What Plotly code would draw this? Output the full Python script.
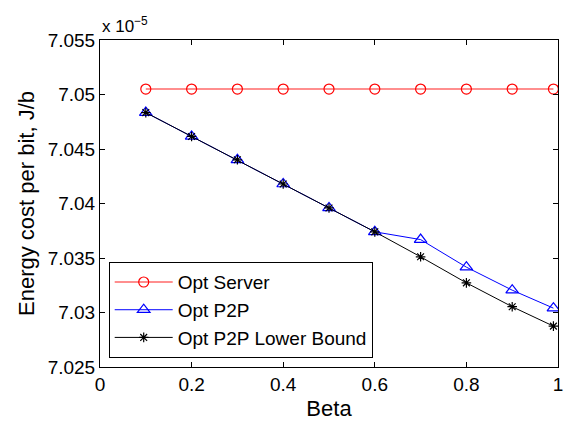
import plotly.graph_objects as go

beta = [0.1, 0.2, 0.3, 0.4, 0.5, 0.6, 0.7, 0.8, 0.9, 0.99]
opt_server = [7.0505] * 10
opt_p2p = [7.04834, 7.04615, 7.04401, 7.04179, 7.03959, 7.0374, 7.03669, 7.03416, 7.03205, 7.0304]
opt_p2p_lb = [7.04834, 7.04615, 7.04401, 7.04179, 7.03959, 7.0374, 7.03511, 7.03272, 7.03053, 7.02875]
x_ticks = [0, 0.2, 0.4, 0.6, 0.8, 1]
x_ticklabels = ["0", "0.2", "0.4", "0.6", "0.8", "1"]
y_ticks = [7.025, 7.03, 7.035, 7.04, 7.045, 7.05, 7.055]
y_ticklabels = ["7.025", "7.03", "7.035", "7.04", "7.045", "7.05", "7.055"]

font = "Liberation Sans, Arial, Helvetica, sans-serif"

fig = go.Figure()
fig.add_trace(go.Scatter(x=beta, y=opt_server, mode="lines+markers", name="Opt Server",
                         line=dict(color="rgb(255,105,105)", width=1.6),
                         marker=dict(symbol="circle-open", size=10, color="red", line=dict(width=1.2))))
fig.add_trace(go.Scatter(x=beta, y=opt_p2p, mode="lines+markers", name="Opt P2P",
                         line=dict(color="blue", width=1),
                         marker=dict(symbol="triangle-up-open", size=11, color="blue", line=dict(width=1.2))))
fig.add_trace(go.Scatter(x=beta, y=opt_p2p_lb, mode="lines+markers", name="Opt P2P Lower Bound",
                         line=dict(color="black", width=1),
                         marker=dict(symbol="asterisk-open", size=8, color="black", line=dict(width=1.2, color="black"))))

axis_common = dict(showgrid=False, zeroline=False, ticks="inside", ticklen=5, tickwidth=1,
                   tickcolor="black", showline=True, linecolor="black", linewidth=1, mirror="ticks",
                   ticklabeloverflow="allow",
                   tickfont=dict(family=font, size=19, color="black"))

fig.update_layout(
    width=569, height=422,
    margin=dict(l=100, r=6, t=40, b=54),
    paper_bgcolor="white", plot_bgcolor="white",
    font=dict(family=font, color="black"),
    xaxis=dict(range=[0, 1.0000001], tickvals=x_ticks, ticktext=x_ticklabels,
               title=dict(text="Beta", font=dict(family=font, size=22), standoff=6), **axis_common),
    yaxis=dict(range=[7.025, 7.055], tickvals=y_ticks, ticktext=y_ticklabels,
               title=dict(text="Energy cost per bit, J/b", font=dict(family=font, size=22), standoff=6), **axis_common),
    legend=dict(x=0.019, y=0.027, xanchor="left", yanchor="bottom",
                bgcolor="white", bordercolor="black", borderwidth=1,
                font=dict(family=font, size=19, color="black"), tracegroupgap=0,
                itemwidth=58),
    showlegend=True,
)
fig.add_annotation(text="x 10<sup>−5</sup>", xref="paper", yref="paper", x=0, y=1.005,
                   xanchor="left", yanchor="bottom", showarrow=False,
                   font=dict(family=font, size=17, color="black"))

fig.write_html("out.html", config={"displayModeBar": False},
               post_script="document.body.style.margin='0';document.body.style.padding='0';")
